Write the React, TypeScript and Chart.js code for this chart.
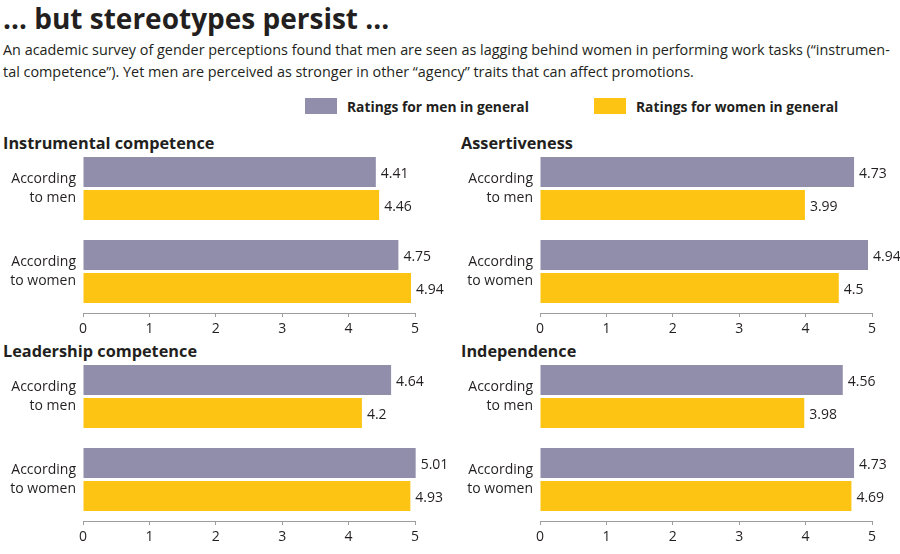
import React, { useEffect, useRef } from "react";
import { Chart, registerables } from "chart.js";

Chart.register(...registerables);

const titleText = "… but stereotypes persist ...";
const subtitleLines = [
  "An academic survey of gender perceptions found that men are seen as lagging behind women in performing work tasks (“instrumen-",
  "tal competence”). Yet men are perceived as stronger in other “agency” traits that can affect promotions.",
];
const categories = [
  ["According", "to men"],
  ["According", "to women"],
];
const seriesNames = ["Ratings for men in general", "Ratings for women in general"];
const seriesColors = ["#918eab", "#fec413"];
const panelTitles = ["Instrumental competence", "Assertiveness", "Leadership competence", "Independence"];
const menRatings = [
  [4.41, 4.75],
  [4.73, 4.94],
  [4.64, 5.01],
  [4.56, 4.73],
];
const womenRatings = [
  [4.46, 4.94],
  [3.99, 4.5],
  [4.2, 4.93],
  [3.98, 4.69],
];
const xMin = 0;
const xMax = 5;

const FONT = "'Open Sans', sans-serif";
const TEXT = "#231f20";

const panelBoxes = [
  { left: 0, top: 147, width: 450, titleLeft: 3, titleTop: 134 },
  { left: 457, top: 147, width: 443, titleLeft: 461, titleTop: 134 },
  { left: 0, top: 355, width: 450, titleLeft: 3, titleTop: 342 },
  { left: 457, top: 355, width: 443, titleLeft: 461, titleTop: 342 },
];

const valueLabels = {
  id: "valueLabels",
  afterDatasetsDraw(chart: any) {
    const ctx = chart.ctx;
    ctx.save();
    ctx.font = `14px ${FONT}`;
    ctx.fillStyle = TEXT;
    ctx.textAlign = "left";
    ctx.textBaseline = "middle";
    chart.data.datasets.forEach((ds: any, di: number) => {
      const meta = chart.getDatasetMeta(di);
      meta.data.forEach((el: any, i: number) => {
        ctx.fillText(String(ds.data[i]), el.x + 5, el.y + 2);
      });
    });
    ctx.restore();
  },
};

function Panel({ index }: { index: number }) {
  const ref = useRef<HTMLCanvasElement>(null);
  const box = panelBoxes[index];
  useEffect(() => {
    if (!ref.current) return;
    const chart = new Chart(ref.current, {
      type: "bar",
      data: {
        labels: categories,
        datasets: [
          {
            label: seriesNames[0],
            data: menRatings[index],
            backgroundColor: seriesColors[0],
            borderWidth: 0,
            clip: false as any,
          },
          {
            label: seriesNames[1],
            data: womenRatings[index],
            backgroundColor: seriesColors[1],
            borderWidth: 0,
            clip: false as any,
          },
        ],
      },
      options: {
        indexAxis: "y",
        animation: false,
        responsive: false,
        devicePixelRatio: 1,
        layout: { padding: { left: 0, top: 0, bottom: 0, right: box.width - 83 - 332 } },
        datasets: {
          bar: { categoryPercentage: 0.795, barPercentage: 0.91 },
        },
        plugins: {
          legend: { display: false },
          tooltip: { enabled: false },
          title: { display: false },
        },
        scales: {
          x: {
            min: xMin,
            max: xMax,
            ticks: {
              stepSize: 1,
              color: TEXT,
              font: { family: FONT, size: 14 },
              padding: 4,
            },
            grid: {
              display: true,
              drawOnChartArea: false,
              drawTicks: true,
              tickLength: 4,
              color: "#9d9d9d",
            },
            border: { display: true, color: "#9d9d9d", width: 1 },
            afterFit: (s: any) => {
              s.height = 23;
              s.paddingLeft = 0;
            },
          },
          y: {
            ticks: {
              color: TEXT,
              font: { family: FONT, size: 14, lineHeight: 1.35 },
              padding: 7,
            },
            grid: { display: false, drawTicks: false, tickLength: 0 },
            border: { display: false },
            afterFit: (s: any) => {
              s.width = 83;
              s.paddingTop = 0;
              s.paddingBottom = 0;
            },
          },
        },
      },
      plugins: [valueLabels],
    });
    return () => chart.destroy();
  }, [index]);
  return (
    <>
      <div
        style={{
          position: "absolute",
          left: box.titleLeft,
          top: box.titleTop,
          fontSize: 16.3,
          lineHeight: "19px",
          fontWeight: 700,
          whiteSpace: "nowrap",
          color: TEXT,
        }}
      >
        {panelTitles[index]}
      </div>
      <canvas
        ref={ref}
        width={box.width}
        height={189}
        style={{ position: "absolute", left: box.left, top: box.top, width: box.width, height: 189 }}
      />
    </>
  );
}

export default function App() {
  return (
    <div
      style={{
        position: "fixed",
        left: 0,
        top: 0,
        width: 900,
        height: 554,
        background: "#fff",
        fontFamily: FONT,
        color: TEXT,
        overflow: "hidden",
      }}
    >
      <div
        style={{
          position: "absolute",
          left: 3,
          top: 4,
          fontSize: 28,
          lineHeight: "28px",
          fontWeight: 700,
          whiteSpace: "nowrap",
        }}
      >
        {titleText}
      </div>
      <div style={{ position: "absolute", left: 3, top: 39, fontSize: 14.4, lineHeight: "21.5px" }}>
        {subtitleLines.map((l, i) => (
          <div key={i} style={{ whiteSpace: "nowrap" }}>
            {l}
          </div>
        ))}
      </div>
      {seriesNames.map((name, i) => (
        <div
          key={name}
          style={{
            position: "absolute",
            left: i === 0 ? 305 : 594,
            top: 98,
            height: 16,
            display: "flex",
            alignItems: "center",
            whiteSpace: "nowrap",
          }}
        >
          <div style={{ width: 32, height: 16, background: seriesColors[i], marginRight: 10 }} />
          <span style={{ fontSize: 13.8, fontWeight: 700 }}>{name}</span>
        </div>
      ))}
      {panelTitles.map((_, i) => (
        <Panel key={i} index={i} />
      ))}
    </div>
  );
}
